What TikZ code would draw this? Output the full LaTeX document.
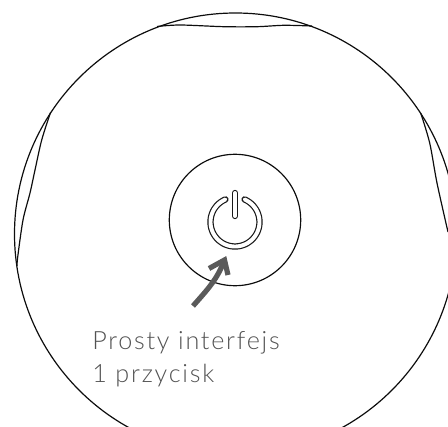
\documentclass[tikz,border=0pt]{standalone}
\usepackage{fontspec}
\newfontfamily\labelfont[LetterSpace=7]{Lato Light}
\usetikzlibrary{arrows.meta,calc,positioning}
\definecolor{pointer}{HTML}{5A5A5A}
\tikzset{
  outline/.style={line width=0.85pt, black!95},
  icon/.style={line width=0.85pt, black!90, double=white, double distance=2.8pt, line cap=round},
  pointer line/.style={line width=3.7pt, pointer, miter limit=10},
  caption/.style={font=\labelfont\fontsize{17.9}{22.9}\selectfont, text=black!68, align=left, inner sep=0pt},
}

\begin{document}
\begin{tikzpicture}[x=0.025cm, y=-0.025cm]
  \useasboundingbox (0,0) rectangle (448,427);
  \clip (0,0) rectangle (448,427);

  % Body
  \draw[outline] (235.5,234) circle (221);

  % Flattened edges
  \draw[outline] plot[smooth] coordinates {(157,26.5) (180,25) (224,26.7) (257,26.7) (284,25.3) (312,26)};
  \draw[outline] plot[smooth] coordinates {(50.5,112.5) (41.7,140) (35,170) (30,193) (23,220) (17.7,257) (17,266)};
  \draw[outline] plot[smooth] coordinates {(420.7,113) (429.7,143) (437,183) (448,232)};

  % Button
  \draw[outline] (235,220) circle (65.7);

  % Power symbol
  \draw[icon] plot[domain=113:427, samples=70] ({235+24.5*cos(\x)},{222-24.5*sin(\x)});
  \draw[icon] (235,193) -- (235,216);

  % Pointer
  \coordinate (pointer start) at (193,306);
  \coordinate (pointer tip) at (224.5,260);
  \draw[pointer line] (pointer start) .. controls (207,290) and (217,280) .. (pointer tip);
  \draw[pointer line] (209,268.5) -- (pointer tip) -- (228,275);

  % Label
  \node[caption, anchor=north west] (label) at (92,331.5) {Prosty interfejs\\1 przycisk};

\end{tikzpicture}
\end{document}
